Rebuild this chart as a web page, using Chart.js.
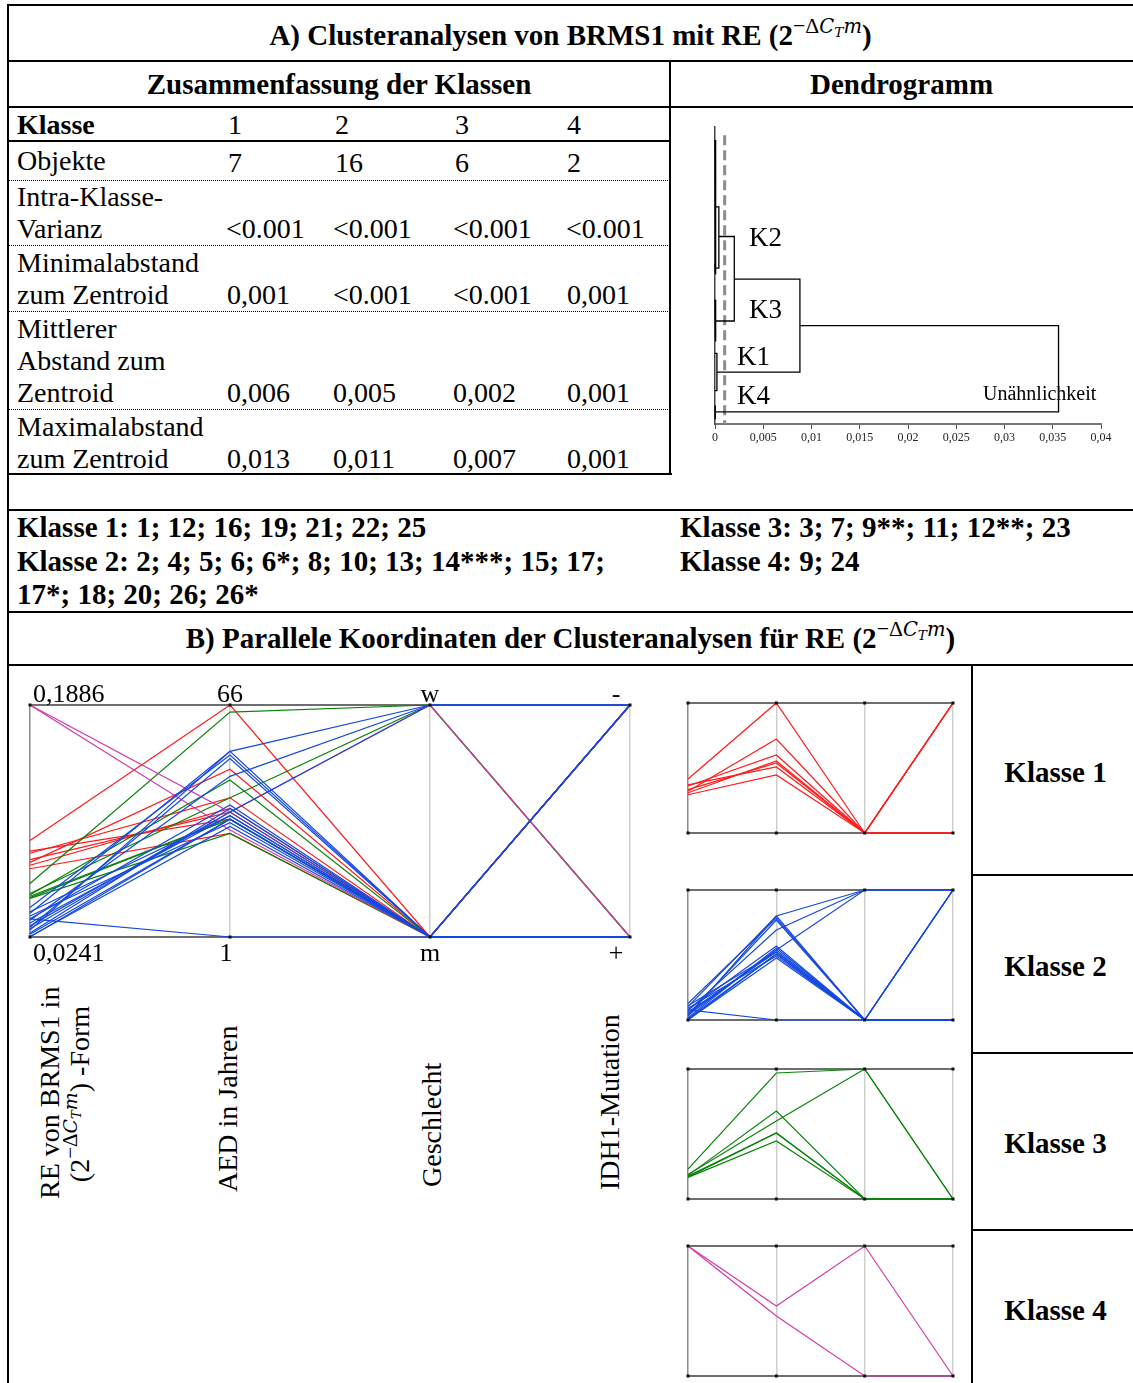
<!DOCTYPE html>
<html lang="de">
<head>
<meta charset="utf-8">
<title>Clusteranalysen von BRMS1</title>
<script src="https://cdn.jsdelivr.net/npm/chart.js@4.4.1/dist/chart.umd.min.js"></script>
<style>
  html, body { margin: 0; padding: 0; background: #fff; }
  #page { position: relative; width: 1133px; height: 1383px; overflow: hidden;
          font-family: "Liberation Serif", "Times New Roman", serif; color: #000; }
  .hl { position: absolute; height: 2px; background: #000; }
  .vl { position: absolute; width: 2px; background: #000; }
  .dl { position: absolute; left: 8px; width: 662px; height: 0; border-top: 1px dotted #000; }
  .t { position: absolute; white-space: nowrap; font-size: 28px; line-height: 32px; }
  .b { font-weight: bold; }
  .h { font-size: 29px; }
  .c { text-align: center; }
  .rot { position: absolute; white-space: nowrap; font-size: 28px; line-height: 32px;
         transform: rotate(-90deg); transform-origin: 0 0; }
  sup { font-size: 0.75em; vertical-align: 0.55em; line-height: 0; font-weight: normal; }
  sup i { font-family: "DejaVu Serif", serif; font-size: 0.9em; }
  sub { font-size: 0.7em; vertical-align: -0.3em; line-height: 0; }
  canvas { position: absolute; }
</style>
</head>
<body>
<div id="page">
  <!-- table frame -->
  <div class="hl" style="left:8px;top:4px;width:1125px"></div>
  <div class="hl" style="left:8px;top:60px;width:1125px"></div>
  <div class="hl" style="left:8px;top:106px;width:1125px"></div>
  <div class="hl" style="left:8px;top:140px;width:662px"></div>
  <div class="hl" style="left:8px;top:473px;width:664px"></div>
  <div class="hl" style="left:8px;top:509px;width:1125px"></div>
  <div class="hl" style="left:8px;top:611px;width:1125px"></div>
  <div class="hl" style="left:8px;top:664px;width:1125px"></div>
  <div class="hl" style="left:972px;top:874px;width:161px"></div>
  <div class="hl" style="left:972px;top:1052px;width:161px"></div>
  <div class="hl" style="left:972px;top:1229px;width:161px"></div>
  <div class="vl" style="left:7px;top:4px;height:1379px"></div>
  <div class="vl" style="left:669px;top:60px;height:415px"></div>
  <div class="vl" style="left:971px;top:664px;height:719px"></div>
  <div class="dl" style="top:180px"></div>
  <div class="dl" style="top:245px"></div>
  <div class="dl" style="top:311px"></div>
  <div class="dl" style="top:409px"></div>

  <!-- headings -->
  <div class="t b c h" style="left:8px;width:1125px;top:19px">A) Clusteranalysen von BRMS1 mit RE (2<sup>−Δ<i>C<sub>T</sub>m</i></sup>)</div>
  <div class="t b c h" style="left:8px;width:662px;top:68px">Zusammenfassung der Klassen</div>
  <div class="t b c h" style="left:670px;width:463px;top:68px">Dendrogramm</div>

  <!-- summary of the classes -->
  <div class="t b" style="left:17px;top:109px">Klasse</div>
  <div class="t" style="left:228px;top:109px">1</div>
  <div class="t" style="left:335px;top:109px">2</div>
  <div class="t" style="left:455px;top:109px">3</div>
  <div class="t" style="left:567px;top:109px">4</div>

  <div class="t" style="left:17px;top:145px">Objekte</div>
  <div class="t" style="left:228px;top:147px">7</div>
  <div class="t" style="left:335px;top:147px">16</div>
  <div class="t" style="left:455px;top:147px">6</div>
  <div class="t" style="left:567px;top:147px">2</div>

  <div class="t" style="left:17px;top:181px">Intra-Klasse-<br>Varianz</div>
  <div class="t" style="left:226px;top:213px">&lt;0.001</div>
  <div class="t" style="left:333px;top:213px">&lt;0.001</div>
  <div class="t" style="left:453px;top:213px">&lt;0.001</div>
  <div class="t" style="left:566px;top:213px">&lt;0.001</div>

  <div class="t" style="left:17px;top:247px">Minimalabstand<br>zum Zentroid</div>
  <div class="t" style="left:227px;top:279px">0,001</div>
  <div class="t" style="left:333px;top:279px">&lt;0.001</div>
  <div class="t" style="left:453px;top:279px">&lt;0.001</div>
  <div class="t" style="left:567px;top:279px">0,001</div>

  <div class="t" style="left:17px;top:313px">Mittlerer<br>Abstand zum<br>Zentroid</div>
  <div class="t" style="left:227px;top:377px">0,006</div>
  <div class="t" style="left:333px;top:377px">0,005</div>
  <div class="t" style="left:453px;top:377px">0,002</div>
  <div class="t" style="left:567px;top:377px">0,001</div>

  <div class="t" style="left:17px;top:411px">Maximalabstand<br>zum Zentroid</div>
  <div class="t" style="left:227px;top:443px">0,013</div>
  <div class="t" style="left:333px;top:443px">0,011</div>
  <div class="t" style="left:453px;top:443px">0,007</div>
  <div class="t" style="left:567px;top:443px">0,001</div>

  <!-- dendrogram -->
  <canvas id="dendro" width="440" height="340" style="left:680px;top:115px"></canvas>
  <div class="t" style="left:749px;top:221px;font-size:27px">K2</div>
  <div class="t" style="left:749px;top:293px;font-size:27px">K3</div>
  <div class="t" style="left:737px;top:340px;font-size:27px">K1</div>
  <div class="t" style="left:737px;top:379px;font-size:27px">K4</div>
  <div class="t" style="left:983px;top:381px;font-size:20px;line-height:24px">Unähnlichkeit</div>

  <!-- class members -->
  <div class="t b h" style="left:17px;top:511px">Klasse 1: 1; 12; 16; 19; 21; 22; 25</div>
  <div class="t b h" style="left:17px;top:545px">Klasse 2: 2; 4; 5; 6; 6*; 8; 10; 13; 14***; 15; 17;</div>
  <div class="t b h" style="left:17px;top:578px">17*; 18; 20; 26; 26*</div>
  <div class="t b h" style="left:680px;top:511px">Klasse 3: 3; 7; 9**; 11; 12**; 23</div>
  <div class="t b h" style="left:680px;top:545px">Klasse 4: 9; 24</div>

  <div class="t b c h" style="left:8px;width:1125px;top:622px">B) Parallele Koordinaten der Clusteranalysen für RE (2<sup>−Δ<i>C<sub>T</sub>m</i></sup>)</div>

  <!-- parallel coordinates -->
  <canvas id="allClasses" width="650" height="300" style="left:10px;top:670px"></canvas>
  <div class="rot c" style="left:35px;top:1199px;width:210px;line-height:30px">RE von BRMS1 in<br>(2<sup>−Δ<i>C<sub>T</sub>m</i></sup>) -Form</div>
  <div class="rot" style="left:212px;top:1192px">AED in Jahren</div>
  <div class="rot" style="left:416px;top:1187px">Geschlecht</div>
  <div class="rot" style="left:594px;top:1190px">IDH1-Mutation</div>

  <canvas id="k1" width="285" height="148" style="left:680px;top:695px"></canvas>
  <canvas id="k2" width="285" height="148" style="left:680px;top:882px"></canvas>
  <canvas id="k3" width="285" height="148" style="left:680px;top:1061px"></canvas>
  <canvas id="k4" width="285" height="148" style="left:680px;top:1238px"></canvas>

  <div class="t b c h" style="left:975px;width:161px;top:756px">Klasse 1</div>
  <div class="t b c h" style="left:975px;width:161px;top:950px">Klasse 2</div>
  <div class="t b c h" style="left:975px;width:161px;top:1127px">Klasse 3</div>
  <div class="t b c h" style="left:975px;width:161px;top:1294px">Klasse 4</div>
</div>

<script>
// ---- dendrogram: each merge joins an upper and a lower branch ----
// positions are in leaf units along the vertical axis (0 = top)
const mergeHeight = [0.0356, 0.0088, 0.002, 0.0004, 0.0001, 0.00005, 0.0001, 0.0002, 0.00005];
const upperPos    = [21.4, 16.4, 11.8, 8.6, 1.4, 14.7, 18.6, 24.4, 30.0];
const upperHeight = [0.0088, 0.002, 0.0004, 0.0001, 0, 0, 0, 0, 0];
const lowerPos    = [30.7, 26.4, 20.9, 15.2, 15.9, 15.7, 23.1, 28.4, 31.5];
const lowerHeight = [0.00005, 0.0002, 0.0001, 0.00005, 0, 0, 0, 0, 0];
const cutHeight = 0.001;

// ---- parallel coordinates ----
const axisNames = ['RE von BRMS1', 'AED in Jahren', 'Geschlecht', 'IDH1-Mutation'];
const axisTopLabels = ['0,1886', '66', 'w', '-'];
const axisBottomLabels = ['0,0241', '1', 'm', '+'];
const reRange = [0.0241, 0.1886];
const aedRange = [1, 66];

// Klasse 1
const reK1  = [0.0925, 0.085, 0.0835, 0.079, 0.077, 0.075, 0.0725];
const aedK1 = [66, 34, 40, 36, 48, 37, 30];
const sexK1 = ['m', 'm', 'm', 'm', 'm', 'm', 'm'];
const idhK1 = ['-', '+', '-', '+', '-', '-', '+'];

// Klasse 2
const reK2  = [0.041, 0.036, 0.032, 0.045, 0.031, 0.029, 0.037, 0.027, 0.034, 0.0241, 0.039, 0.042, 0.026, 0.037, 0.030, 0.0245];
const aedK2 = [53, 46, 36, 52, 51, 53, 38, 37, 35, 34, 33, 35, 34, 1, 36, 32];
const sexK2 = ['w', 'w', 'w', 'm', 'm', 'm', 'm', 'm', 'm', 'm', 'm', 'm', 'm', 'm', 'm', 'm'];
const idhK2 = ['-', '-', '-', '-', '+', '+', '-', '+', '+', '-', '+', '+', '+', '+', '-', '+'];

// Klasse 3
const reK3  = [0.062, 0.055, 0.054, 0.053, 0.052, 0.0515];
const aedK3 = [64, 40, 45, 34, 34, 30];
const sexK3 = ['w', 'w', 'm', 'm', 'm', 'm'];
const idhK3 = ['+', '+', '+', '+', '+', '+'];

// Klasse 4
const reK4  = [0.1886, 0.1886];
const aedK4 = [36, 31];
const sexK4 = ['w', 'm'];
const idhK4 = ['+', '+'];

const classColors = ['#ff1a1a', '#1448e0', '#0a820a', '#d23aa8'];
const drawOrder = [4, 1, 3, 2];   // blue ends up on top

const classes = [
  { re: reK1, aed: aedK1, sex: sexK1, idh: idhK1 },
  { re: reK2, aed: aedK2, sex: sexK2, idh: idhK2 },
  { re: reK3, aed: aedK3, sex: sexK3, idh: idhK3 },
  { re: reK4, aed: aedK4, sex: sexK4, idh: idhK4 }
];

const serif = '"Liberation Serif", "Times New Roman", serif';

function norm(v, range) {
  return (v - range[0]) / (range[1] - range[0]);
}

// one line per object, every axis scaled to 0..1
function classLines(k, width) {
  const c = classes[k];
  return c.re.map((re, i) => ({
    label: 'Klasse ' + (k + 1),
    data: [norm(re, reRange), norm(c.aed[i], aedRange), c.sex[i] === 'w' ? 1 : 0, c.idh[i] === '-' ? 1 : 0],
    borderColor: classColors[k],
    borderWidth: width,
    pointRadius: 0,
    tension: 0,
    fill: false,
    clip: false,
    order: drawOrder[k]
  }));
}

const axisDots = {
  id: 'axisDots',
  afterDatasetsDraw(chart) {
    const { ctx, scales: { x, y } } = chart;
    ctx.save();
    ctx.fillStyle = '#111';
    axisNames.forEach((_, i) => {
      const px = x.getPixelForValue(i);
      [0, 1].forEach(v => ctx.fillRect(px - 1.5, y.getPixelForValue(v) - 1.5, 3, 3));
    });
    ctx.restore();
  }
};

const axisText = {
  id: 'axisText',
  afterDraw(chart) {
    const { ctx, scales: { x, y } } = chart;
    const last = axisTopLabels.length - 1;
    ctx.save();
    ctx.font = '26px ' + serif;
    ctx.fillStyle = '#000';
    ctx.textBaseline = 'alphabetic';
    axisTopLabels.forEach((t, i) => {
      const px = x.getPixelForValue(i);
      ctx.textAlign = i === 0 ? 'left' : 'center';
      const ox = i === 0 ? 3 : (i === last ? -14 : 0);
      ctx.fillText(t, px + ox, y.getPixelForValue(1) - 3);
      ctx.fillText(axisBottomLabels[i], px + ox + (i === 1 ? -4 : 0), y.getPixelForValue(0) + 24);
    });
    ctx.restore();
  }
};

function parallelChart(id, datasets, pad, extra) {
  return new Chart(document.getElementById(id), {
    type: 'line',
    data: { labels: axisNames, datasets: datasets },
    options: {
      responsive: false,
      animation: false,
      events: [],
      layout: { padding: pad },
      plugins: { legend: { display: false }, tooltip: { enabled: false } },
      scales: {
        x: {
          offset: false,
          ticks: { display: false, autoSkip: false },
          border: { display: false },
          grid: { drawTicks: false, lineWidth: 1.5, color: ctx => ctx.index === 0 ? '#8a8a8a' : '#cfcfcf' },
          afterFit: s => { s.height = 0; }
        },
        y: {
          min: 0,
          max: 1,
          ticks: { display: false, stepSize: 1 },
          border: { display: false },
          grid: { drawTicks: false, lineWidth: 2, color: '#6e6e6e' },
          afterFit: s => { s.width = 0; }
        }
      }
    },
    plugins: extra ? [axisDots, axisText] : [axisDots]
  });
}

// all four classes together
const allLines = [0, 1, 2, 3].flatMap(k => classLines(k, 1.2));
parallelChart('allClasses', allLines, { left: 20, right: 30, top: 35, bottom: 33 }, true);

// one small chart per class
['k1', 'k2', 'k3', 'k4'].forEach((id, k) => {
  parallelChart(id, classLines(k, 1.2), { left: 8, right: 12, top: 8, bottom: 10 }, false);
});

// dendrogram links drawn as U shapes
const links = mergeHeight.map((h, i) => ({
  data: [
    { x: upperHeight[i], y: upperPos[i] },
    { x: h, y: upperPos[i] },
    { x: h, y: lowerPos[i] },
    { x: lowerHeight[i], y: lowerPos[i] }
  ],
  showLine: true,
  borderColor: '#000',
  borderWidth: 1.3,
  pointRadius: 0,
  clip: false
}));

links.push({
  data: [{ x: cutHeight, y: 0.9 }, { x: cutHeight, y: 32 }],
  showLine: true,
  borderColor: '#8c8c8c',
  borderWidth: 3,
  borderDash: [10, 5],
  pointRadius: 0,
  clip: false
});

new Chart(document.getElementById('dendro'), {
  type: 'scatter',
  data: { datasets: links },
  options: {
    responsive: false,
    animation: false,
    events: [],
    layout: { padding: { left: 35, right: 19, top: 12, bottom: 0 } },
    plugins: { legend: { display: false }, tooltip: { enabled: false } },
    scales: {
      x: {
        type: 'linear',
        min: 0,
        max: 0.04,
        ticks: {
          stepSize: 0.005,
          autoSkip: false,
          maxRotation: 0,
          padding: 2,
          color: '#222',
          font: { family: serif, size: 12 },
          callback: v => v === 0 ? '0' : String(parseFloat(v.toFixed(3))).replace('.', ',')
        },
        grid: { drawOnChartArea: false, tickLength: 5, color: '#555' },
        border: { color: '#777', width: 2 },
        afterFit: s => { s.height = 31; }
      },
      y: {
        min: 0,
        max: 32,
        reverse: true,
        ticks: { display: false },
        grid: { display: false },
        border: { color: '#444', width: 1.5 },
        afterFit: s => { s.width = 0; }
      }
    }
  }
});
</script>
</body>
</html>
